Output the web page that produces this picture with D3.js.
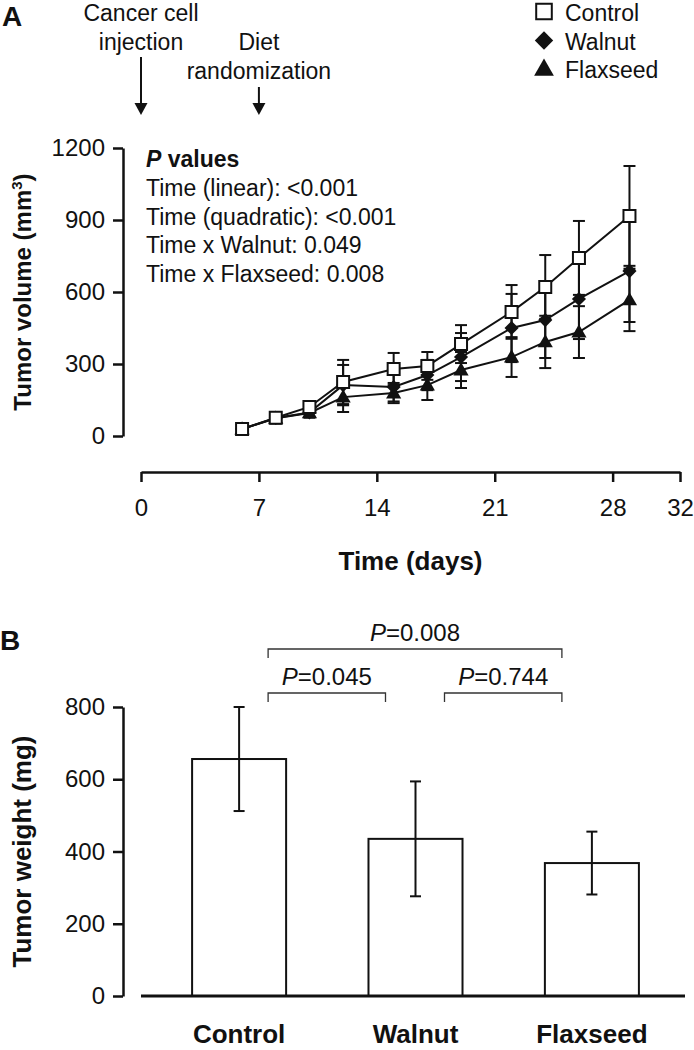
<!DOCTYPE html>
<html>
<head>
<meta charset="utf-8">
<script src="https://cdn.jsdelivr.net/npm/d3@7"></script>
<style>
  html, body { margin: 0; padding: 0; background: #fff; }
  svg { display: block; font-family: "Liberation Sans", Arial, Helvetica, sans-serif; }
</style>
</head>
<body>
<svg id="chart" width="694" height="1050"></svg>
<script>
// ---------- Panel A data ----------
const days = [6, 8, 10, 12, 15, 17, 19, 22, 24, 26, 29];
const controlVol = [29, 76, 121, 225, 279, 292, 383, 517, 621, 742, 917];
const controlSE = [10, 24, 22, 92, 67, 58, 79, 112, 133, 154, 208];
const walnutVol = [29, 75, 98, 212, 204, 254, 329, 450, 483, 571, 687];
const walnutSE = [8, 20, 18, 84, 60, 63, 100, 142, 158, 167, 212];
const flaxseedVol = [29, 74, 96, 162, 179, 212, 275, 329, 392, 433, 567];
const flaxseedSE = [8, 18, 20, 62, 42, 62, 75, 83, 109, 108, 130];
const xTicksA = [0, 7, 14, 21, 28, 32];
const yTicksA = [0, 300, 600, 900, 1200];
const seriesNames = ["Control", "Walnut", "Flaxseed"];
const pValueLines = ["Time (linear): <0.001", "Time (quadratic): <0.001", "Time x Walnut: 0.049", "Time x Flaxseed: 0.008"];
const events = [{ day: 0, lines: ["Cancer cell", "injection"] }, { day: 7, lines: ["Diet", "randomization"] }];

// ---------- Panel B data ----------
const groups = ["Control", "Walnut", "Flaxseed"];
const weightMean = [656, 435, 368];
const weightSE = [144, 159, 87];
const yTicksB = [0, 200, 400, 600, 800];
const comparisons = [
  { a: 0, b: 1, p: "0.045", level: 0 },
  { a: 1, b: 2, p: "0.744", level: 0 },
  { a: 0, b: 2, p: "0.008", level: 1 }
];

const ink = "#111";
const svg = d3.select("#chart");

// ================= Panel A =================
const xA = d3.scaleLinear().domain([0, 32]).range([141, 680]);
const yA = d3.scaleLinear().domain([0, 1200]).range([436, 148]);

svg.append("text").attr("x", 2).attr("y", 26).attr("font-size", 28).attr("font-weight", "bold").attr("fill", ink).text("A");

// y axis
const gyA = svg.append("g").attr("transform", "translate(123,0)")
  .call(d3.axisLeft(yA).tickValues(yTicksA).tickFormat(d3.format("d")).tickSize(10).tickSizeOuter(0).tickPadding(8));
gyA.selectAll("path, line").attr("stroke", ink).attr("stroke-width", 2.5);
gyA.selectAll("text").attr("font-size", 24).attr("fill", ink).attr("font-family", null);

// x axis (offset below)
const gxA = svg.append("g").attr("transform", "translate(0,472)")
  .call(d3.axisBottom(xA).tickValues(xTicksA).tickFormat(d3.format("d")).tickSize(10).tickSizeOuter(0));
gxA.selectAll("path, line").attr("stroke", ink).attr("stroke-width", 2.5);
gxA.selectAll("text").attr("font-size", 24).attr("fill", ink).attr("font-family", null)
  .attr("y", 44).attr("dy", 0);

svg.append("text").attr("x", (xA.range()[0] + xA.range()[1]) / 2).attr("y", 570)
  .attr("text-anchor", "middle").attr("font-size", 26).attr("font-weight", "bold").attr("fill", ink)
  .text("Time (days)");

const yLabA = svg.append("text").attr("transform", `translate(31,${(yA.range()[0] + yA.range()[1]) / 2}) rotate(-90)`)
  .attr("text-anchor", "middle").attr("font-size", 24).attr("font-weight", "bold").attr("fill", ink);
yLabA.append("tspan").text("Tumor volume (mm");
yLabA.append("tspan").attr("font-size", 15).attr("dy", -9).text("3");
yLabA.append("tspan").attr("dy", 9).text(")");

// event annotations with arrows
const arrowTip = 115;
events.forEach((ev, i) => {
  const cx = xA(ev.day);
  const top = i === 0 ? 12 : 41;
  ev.lines.forEach((l, j) => {
    svg.append("text").attr("x", cx).attr("y", top + 9 + j * 29).attr("text-anchor", "middle")
      .attr("font-size", 23).attr("fill", ink).text(l);
  });
  const start = i === 0 ? 57 : 87;
  svg.append("line").attr("x1", cx).attr("x2", cx).attr("y1", start).attr("y2", arrowTip - 8)
    .attr("stroke", ink).attr("stroke-width", 2);
  svg.append("path").attr("d", `M${cx - 6.5},${arrowTip - 12} L${cx + 6.5},${arrowTip - 12} L${cx},${arrowTip} Z`).attr("fill", ink);
});

// P values block
const pv = svg.append("g");
const pvHead = pv.append("text").attr("x", 146).attr("y", 167).attr("font-size", 23).attr("font-weight", "bold").attr("fill", ink);
pvHead.append("tspan").attr("font-style", "italic").text("P");
pvHead.append("tspan").text(" values");
pValueLines.forEach((t, i) => {
  pv.append("text").attr("x", 146).attr("y", 196 + i * 28.5).attr("font-size", 23).attr("fill", ink).text(t);
});

// series
const series = [
  { name: "Control", vals: controlVol, se: controlSE },
  { name: "Walnut", vals: walnutVol, se: walnutSE },
  { name: "Flaxseed", vals: flaxseedVol, se: flaxseedSE }
];
const capW = 6;
// error bars
series.forEach(s => {
  const g = svg.append("g").attr("stroke", ink).attr("stroke-width", 2);
  days.forEach((d, i) => {
    const cx = xA(d), hi = yA(s.vals[i] + s.se[i]), lo = yA(Math.max(0, s.vals[i] - s.se[i]));
    g.append("line").attr("x1", cx).attr("x2", cx).attr("y1", hi).attr("y2", lo);
    g.append("line").attr("x1", cx - capW).attr("x2", cx + capW).attr("y1", hi).attr("y2", hi);
    g.append("line").attr("x1", cx - capW).attr("x2", cx + capW).attr("y1", lo).attr("y2", lo);
  });
});
// lines
const lineGen = d3.line().x((v, i) => xA(days[i])).y(v => yA(v));
series.slice().reverse().forEach(s => {
  svg.append("path").attr("d", lineGen(s.vals)).attr("fill", "none").attr("stroke", ink).attr("stroke-width", 2);
});

// markers
function marker(g, name, cx, cy, scale) {
  if (name === "Control") {
    g.append("path").attr("d", d3.symbol(d3.symbolSquare, 144 * scale * scale)())
      .attr("transform", `translate(${cx},${cy})`).attr("fill", "#fff").attr("stroke", ink).attr("stroke-width", 2);
  } else if (name === "Walnut") {
    g.append("path").attr("d", d3.symbol(d3.symbolSquare, 100 * scale * scale)())
      .attr("transform", `translate(${cx},${cy}) rotate(45)`).attr("fill", ink);
  } else {
    g.append("path").attr("d", d3.symbol(d3.symbolTriangle, 100 * scale * scale)())
      .attr("transform", `translate(${cx},${cy + 1})`).attr("fill", ink);
  }
}
series.slice().reverse().forEach(s => {
  const g = svg.append("g");
  days.forEach((d, i) => marker(g, s.name, xA(d), yA(s.vals[i]), 1));
});

// legend
const legY = [11.5, 40.5, 69];
seriesNames.forEach((n, i) => {
  const g = svg.append("g");
  marker(g, n, 544, legY[i], 1.3);
  g.append("text").attr("x", 565).attr("y", legY[i] + 9).attr("font-size", 23).attr("fill", ink).text(n);
});

// ================= Panel B =================
const xB = d3.scaleBand().domain(groups).range([151, 680]).paddingInner(0.467).paddingOuter(0.233);
const yB = d3.scaleLinear().domain([0, 800]).range([996, 707]);

svg.append("text").attr("x", 0).attr("y", 650).attr("font-size", 28).attr("font-weight", "bold").attr("fill", ink).text("B");

const gyB = svg.append("g").attr("transform", "translate(123,0)")
  .call(d3.axisLeft(yB).tickValues(yTicksB).tickFormat(d3.format("d")).tickSize(10).tickSizeOuter(0).tickPadding(8));
gyB.selectAll("path, line").attr("stroke", ink).attr("stroke-width", 2.5);
gyB.selectAll("text").attr("font-size", 24).attr("fill", ink).attr("font-family", null);

svg.append("text").attr("transform", `translate(31,${(yB.range()[0] + yB.range()[1]) / 2}) rotate(-90)`)
  .attr("text-anchor", "middle").attr("font-size", 26).attr("font-weight", "bold").attr("fill", ink)
  .text("Tumor weight (mg)");

// bars
svg.append("g").selectAll("rect").data(groups).join("rect")
  .attr("x", g => xB(g)).attr("width", xB.bandwidth())
  .attr("y", (g, i) => yB(weightMean[i])).attr("height", (g, i) => yB(0) - yB(weightMean[i]))
  .attr("fill", "#fff").attr("stroke", ink).attr("stroke-width", 2);

// error bars
const ebB = svg.append("g").attr("stroke", ink).attr("stroke-width", 2);
groups.forEach((g, i) => {
  const cx = xB(g) + xB.bandwidth() / 2;
  const hi = yB(weightMean[i] + weightSE[i]), lo = yB(weightMean[i] - weightSE[i]);
  ebB.append("line").attr("x1", cx).attr("x2", cx).attr("y1", hi).attr("y2", lo);
  ebB.append("line").attr("x1", cx - 5.5).attr("x2", cx + 5.5).attr("y1", hi).attr("y2", hi);
  ebB.append("line").attr("x1", cx - 5.5).attr("x2", cx + 5.5).attr("y1", lo).attr("y2", lo);
});

// baseline
svg.append("line").attr("x1", xB.range()[0] - 10).attr("x2", xB.range()[1] + 5)
  .attr("y1", yB(0)).attr("y2", yB(0)).attr("stroke", ink).attr("stroke-width", 3);

// category labels
svg.append("g").selectAll("text").data(groups).join("text")
  .attr("x", g => xB(g) + xB.bandwidth() / 2).attr("y", 1043)
  .attr("text-anchor", "middle").attr("font-size", 26).attr("font-weight", "bold").attr("fill", ink)
  .text(g => g);

// comparison brackets
comparisons.forEach(c => {
  const x1 = xB(groups[c.a]) + xB.bandwidth() / 2 + 29;
  const x2 = xB(groups[c.b]) + xB.bandwidth() / 2 - 30;
  const yTop = yB(800) - 14 - c.level * 44;
  svg.append("path").attr("d", `M${x1},${yTop + 9} V${yTop} H${x2} V${yTop + 9}`)
    .attr("fill", "none").attr("stroke", "#333").attr("stroke-width", 1.3);
  const t = svg.append("text").attr("x", (x1 + x2) / 2).attr("y", yTop - 8)
    .attr("text-anchor", "middle").attr("font-size", 24).attr("fill", ink);
  t.append("tspan").attr("font-style", "italic").text("P");
  t.append("tspan").text("=" + c.p);
});
</script>
</body>
</html>
